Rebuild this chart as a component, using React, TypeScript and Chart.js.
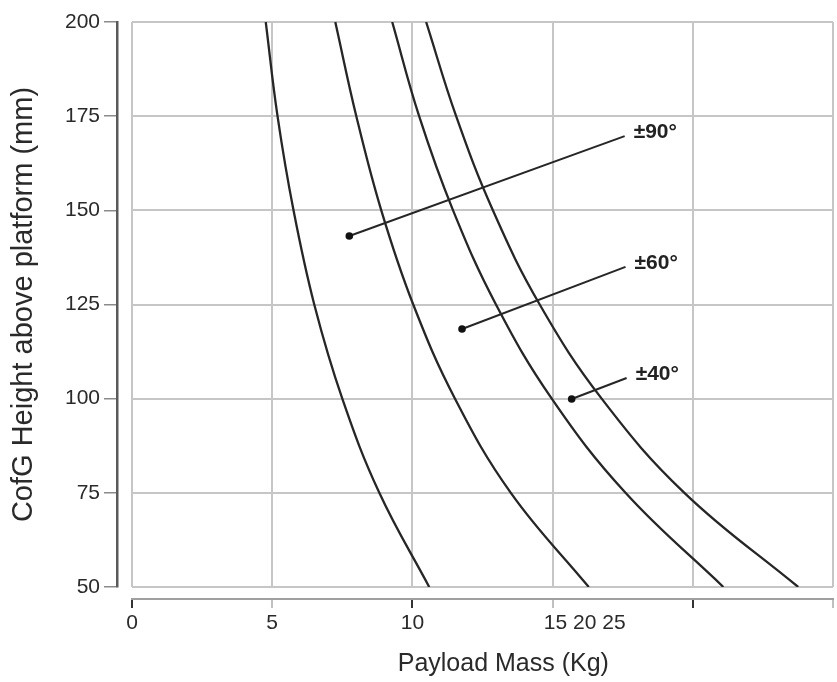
import React, { useEffect, useRef } from "react";
import { Chart, registerables } from "chart.js";

Chart.register(...registerables);

// CofG height (mm) shared by all boundary curves
const heights = [200, 175, 150, 125, 100, 75, 50];

// Payload mass (Kg) of each boundary curve at the heights above
const curve1Mass = [4.77, 5.19, 5.76, 6.5, 7.5, 8.82, 10.6];
const curve2Mass = [7.25, 8.0, 8.89, 10.03, 11.52, 13.51, 16.29];
const curve3Mass = [9.28, 10.24, 11.45, 12.98, 14.97, 17.6, 21.09];
const curve4Mass = [10.49, 11.56, 12.87, 14.54, 16.75, 19.7, 23.76];

// Tilt-angle callouts: dot (mass, height) and end of leader (mass, height)
const calloutNames = ["±90°", "±60°", "±40°"];
const calloutDotMass = [7.75, 11.77, 15.68];
const calloutDotHeight = [143.2, 118.5, 99.9];
const calloutEndMass = [17.57, 17.6, 17.64];
const calloutEndHeight = [169.7, 135.0, 105.5];

// Axis ticks
const xTickValues = [0, 5, 10, 15, 20, 25];
const xTickLabels = ["0", "5", "10", "15 20 25", "", ""];
const xTickMarkColors = ["#333", "#c0c0c0", "#333", "#c0c0c0", "#333", "#c0c0c0"];
const yTickValues = [50, 75, 100, 125, 150, 175, 200];

const FONT = "'Liberation Sans', Arial, Helvetica, sans-serif";
const GRID = "#c6c6c6";
const INK = "#262626";

const curveDataset = (mass: number[]) => ({
  data: mass.map((m, i) => ({ x: m, y: heights[i] })),
  showLine: true,
  borderColor: INK,
  borderWidth: 2.3,
  pointRadius: 0,
  tension: 0.4,
  fill: false,
});

const calloutDataset = (i: number) => ({
  data: [
    { x: calloutDotMass[i], y: calloutDotHeight[i] },
    { x: calloutEndMass[i], y: calloutEndHeight[i] },
  ],
  showLine: true,
  borderColor: INK,
  borderWidth: 2,
  pointRadius: [3.8, 0],
  pointBackgroundColor: "#111",
  pointBorderWidth: 0,
  tension: 0,
});

// Text at the outer end of each leader line
const calloutLabels = {
  id: "calloutLabels",
  afterDatasetsDraw(chart: any) {
    const { ctx, scales } = chart;
    ctx.save();
    ctx.font = `bold 21px ${FONT}`;
    ctx.fillStyle = "#222";
    ctx.textAlign = "left";
    ctx.textBaseline = "middle";
    calloutNames.forEach((name, i) => {
      const px = scales.x.getPixelForValue(calloutEndMass[i]);
      const py = scales.y.getPixelForValue(calloutEndHeight[i]);
      ctx.fillText(name, px + 9, py - 4);
    });
    ctx.restore();
  },
};

// The grouped "15 20 25" label starts just left of the 15 gridline
const xLabelFor = (value: number) => {
  const idx = xTickValues.indexOf(value);
  if (idx < 0) return "";
  const text = xTickLabels[idx];
  return text.includes(" ") ? " ".repeat(11) + text : text;
};

export default function App() {
  const canvasRef = useRef<HTMLCanvasElement | null>(null);

  useEffect(() => {
    if (!canvasRef.current) return;
    const chart = new Chart(canvasRef.current, {
      type: "scatter",
      data: {
        datasets: [
          curveDataset(curve1Mass),
          curveDataset(curve2Mass),
          curveDataset(curve3Mass),
          curveDataset(curve4Mass),
          calloutDataset(0),
          calloutDataset(1),
          calloutDataset(2),
        ] as any,
      },
      options: {
        animation: false,
        responsive: false,
        layout: { padding: { top: 22, right: 2, left: 0, bottom: 0 } },
        plugins: {
          legend: { display: false },
          tooltip: { enabled: false },
        },
        scales: {
          x: {
            type: "linear",
            position: "bottom",
            weight: 0,
            min: 0,
            max: 25,
            afterBuildTicks: (s: any) => {
              s.ticks = xTickValues.map((v) => ({ value: v }));
            },
            ticks: { display: false },
            grid: { color: GRID, lineWidth: 2, drawTicks: false },
            border: { display: false },
            afterFit: (s: any) => {
              s.height = 12;
            },
          },
          xAxis: {
            type: "linear",
            position: "bottom",
            weight: 1,
            min: 0,
            max: 25,
            afterBuildTicks: (s: any) => {
              s.ticks = xTickValues.map((v) => ({ value: v }));
            },
            grid: {
              drawOnChartArea: false,
              drawTicks: true,
              tickLength: 9,
              lineWidth: 2,
              color: (c: any) => xTickMarkColors[c.index] ?? GRID,
            },
            border: { display: true, color: "#a0a0a0", width: 2 },
            ticks: {
              autoSkip: false,
              maxRotation: 0,
              padding: 3,
              color: "#2a2a2a",
              font: { family: FONT, size: 21 },
              callback: (v: any) => xLabelFor(Number(v)),
            },
            title: {
              display: true,
              text: "      Payload Mass (Kg)",
              color: "#2a2a2a",
              font: { family: FONT, size: 25 },
              padding: { top: 0, bottom: 3 },
            },
            afterFit: (s: any) => {
              s.height = 83;
            },
          },
          y: {
            type: "linear",
            position: "left",
            weight: 0,
            min: 50,
            max: 200,
            afterBuildTicks: (s: any) => {
              s.ticks = yTickValues.map((v) => ({ value: v }));
            },
            ticks: { display: false },
            grid: { color: GRID, lineWidth: 2, drawTicks: false },
            border: { display: false },
            afterFit: (s: any) => {
              s.width = 15;
            },
          },
          yAxis: {
            type: "linear",
            position: "left",
            weight: 1,
            min: 50,
            max: 200,
            afterBuildTicks: (s: any) => {
              s.ticks = yTickValues.map((v) => ({ value: v }));
            },
            grid: {
              drawOnChartArea: false,
              drawTicks: true,
              tickLength: 13,
              lineWidth: 1.5,
              color: "#8a8a8a",
            },
            border: { display: true, color: "#5a5a5a", width: 2.5 },
            ticks: {
              padding: 4,
              color: "#2a2a2a",
              font: { family: FONT, size: 21 },
            },
            title: {
              display: true,
              text: "CofG Height above platform (mm)",
              color: "#2a2a2a",
              font: { family: FONT, size: 29 },
              padding: { top: 7, bottom: 0 },
            },
            afterFit: (s: any) => {
              s.width = 117;
            },
          },
        },
      } as any,
      plugins: [calloutLabels],
    });
    return () => chart.destroy();
  }, []);

  return (
    <div style={{ position: "absolute", left: 0, top: 0, width: 837, height: 682, background: "#fff" }}>
      <canvas ref={canvasRef} width={837} height={682} style={{ display: "block" }} />
    </div>
  );
}
